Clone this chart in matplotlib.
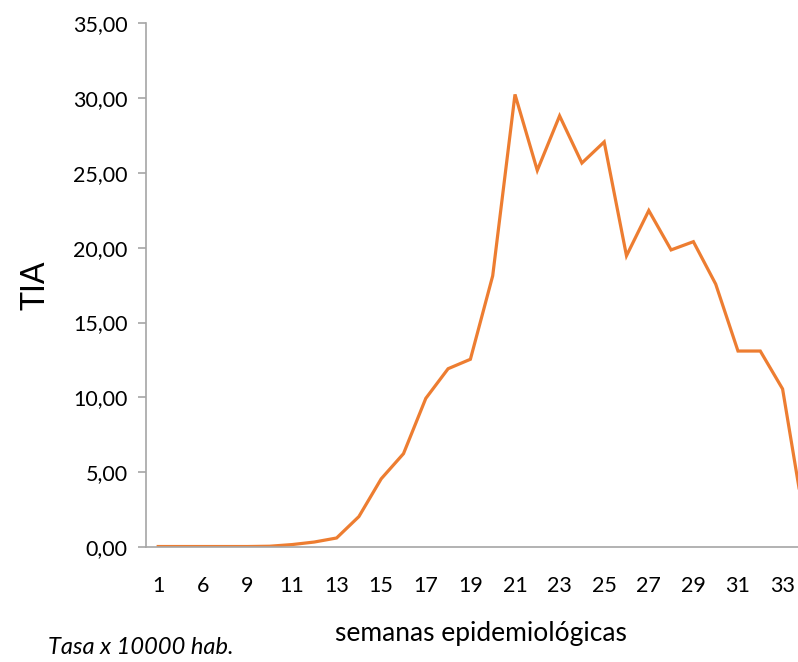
import numpy as np
import matplotlib
matplotlib.use("Agg")
import matplotlib.pyplot as plt
from matplotlib.ticker import FuncFormatter

# semanas epidemiologicas (labels of the category axis)
semanas = ['1', '5', '6', '8', '9', '10', '11', '12', '13', '14', '15', '16', '17', '18', '19',
           '20', '21', '22', '23', '24', '25', '26', '27', '28', '29', '30', '31', '32', '33', '34']
# TIA values
tia = [0.05, 0.05, 0.05, 0.05, 0.05, 0.07, 0.18, 0.35, 0.62, 2.05, 4.57, 6.25, 9.94, 11.92, 12.55,
       18.12, 30.23, 25.16, 28.80, 25.65, 27.06, 19.46, 22.48, 19.85, 20.40, 17.57, 13.10, 13.10, 10.57, 1.6]

plt.rcParams['font.family'] = ['Lato', 'DejaVu Sans']

fig = plt.figure(figsize=(7.98, 6.62), dpi=100)
ax = fig.add_axes([0.1826, 0.1733, 0.84, 0.792])

x = np.arange(len(semanas))
ax.plot(x, tia, color='#ED7D31', linewidth=2.3, solid_joinstyle='miter')

ax.set_ylim(0, 35)
ax.set_yticks(np.arange(0, 36, 5))
ax.yaxis.set_major_formatter(FuncFormatter(lambda v, p: ('%.2f' % v).replace('.', ',')))
ax.set_xlim(-0.56, 29.5)
ax.set_xticks(x[::2])
ax.set_xticklabels(semanas[::2])

for s in ['top', 'right']:
    ax.spines[s].set_visible(False)
for s in ['left', 'bottom']:
    ax.spines[s].set_color('#A6A6A6')
    ax.spines[s].set_linewidth(1.2)

ax.tick_params(axis='y', colors='#A6A6A6', length=6, width=1.2, labelcolor='black',
               labelsize=15.5, pad=7)
ax.tick_params(axis='x', length=0, labelcolor='black', labelsize=15.5, pad=21)

ax.set_ylabel('TIA', fontsize=23, labelpad=16)
ax.set_xlabel('semanas epidemiológicas', fontsize=19, labelpad=18)

fig.text(0.06, 0.006, 'Tasa x 10000 hab.', fontsize=17, style='italic', ha='left', va='bottom')

fig.savefig('out.png', dpi=100)
